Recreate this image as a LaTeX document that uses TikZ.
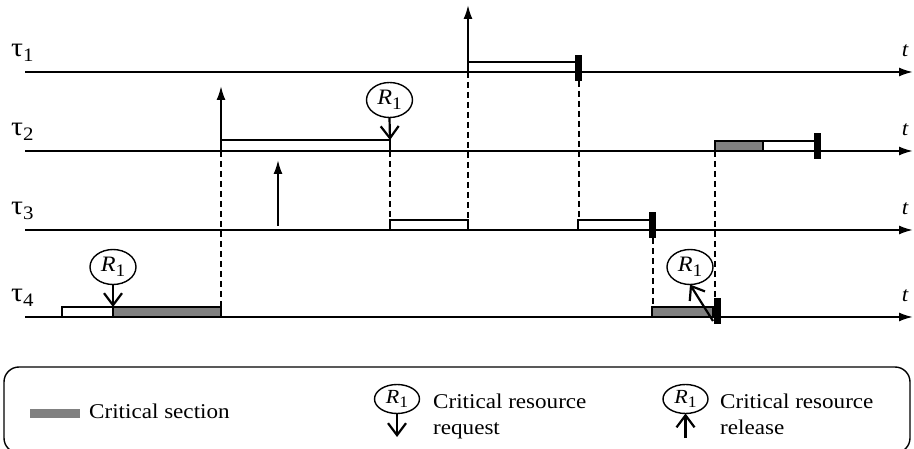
\documentclass[tikz,border=0pt]{standalone}
\usepackage{fontspec}
\setmainfont{Liberation Serif}[FakeStretch=1.1]
\usetikzlibrary{arrows.meta,shapes.geometric}
\newcommand{\resname}[1]{{\fontsize{#1}{#1}\selectfont\itshape R\raisebox{-0.22em}{\upshape\fontsize{0.8\dimexpr #1pt\relax}{1}\selectfont 1}}}
\newcommand{\taulabel}[1]{{\fontsize{27}{28}\selectfont τ}\raisebox{-5pt}{\fontsize{19}{20}\selectfont #1}}
\begin{document}
\begin{tikzpicture}[x=1pt,y=-1pt,
  font=\fontsize{21}{26}\selectfont,
  axis/.style={line width=2pt,-{Latex[length=14pt,width=9pt]}},
  arrival/.style={line width=2pt,-{Latex[length=14pt,width=9pt]}},
  execbox/.style={draw,line width=2pt,fill=white,inner sep=0pt,outer sep=0pt,anchor=south west,minimum height=10pt},
  critbox/.style={execbox,fill=black!50},
  endbar/.style={fill=black,inner sep=0pt,outer sep=0pt,minimum width=7pt,minimum height=26pt},
  dep/.style={line width=2pt,dash pattern=on 6pt off 4pt},
  res/.style={draw,ellipse,line width=1.4pt,minimum width=46pt,minimum height=35pt,inner sep=0pt,outer sep=0pt},
  lres/.style={draw,ellipse,line width=1.4pt,minimum width=45pt,minimum height=29pt,inner sep=0pt,outer sep=0pt},
  req/.style={line width=2.2pt,-{Straight Barb[length=12pt,width=18pt]}},
  tlbl/.style={font=\fontsize{21}{24}\selectfont\itshape,inner sep=0pt,anchor=base},
  txt/.style={inner sep=0pt,anchor=base west}
]
\useasboundingbox (0,0) rectangle (914,449);

% axes
\foreach \i/\y in {1/72,2/151,3/230,4/317}{
  \coordinate (s\i) at (25,\y);
  \coordinate (e\i) at (913,\y);
  \draw[axis] (s\i) -- (e\i);
  \node[inner sep=0pt,anchor=base west] (tau\i) at (11,\y-15) {\taulabel{\i}};
  \node[tlbl] (t\i) at (905,\y-15) {t};
}

% task 1
\coordinate (a1) at (468,72);
\coordinate (a1top) at (468,5);
\draw[arrival] (a1) -- (a1top);
\node[execbox,minimum width=110pt] (j1) at (468,72) {};
\node[endbar] (b1) at (578.5,68) {};

% task 2
\coordinate (a2) at (221,151);
\coordinate (a2top) at (221,86);
\draw[arrival] (a2) -- (a2top);
\node[execbox,minimum width=169pt,minimum height=11pt] (j2a) at (221,151) {};
\node[res] (r2) at (389.5,100) {\resname{22}};
\draw[req] (r2.south) -- (j2a.north east);
\node[critbox,minimum width=48pt] (j2b) at (715,151) {};
\node[execbox,minimum width=54pt] (j2c) at (763,151) {};
\node[endbar] (b2) at (817.5,146) {};

% task 3
\coordinate (a3) at (278,226);
\coordinate (a3top) at (278,160);
\draw[arrival] (a3) -- (a3top);
\node[execbox,minimum width=78pt] (j3a) at (390,230) {};
\node[execbox,minimum width=74pt] (j3b) at (578,230) {};
\node[endbar] (b3) at (652.5,225.5) {};

% task 4
\node[execbox,minimum width=51pt] (j4a) at (62,317) {};
\node[critbox,minimum width=108pt] (j4b) at (113,317) {};
\node[res] (r4a) at (113,267) {\resname{22}};
\draw[req] (r4a.south) -- (j4b.north west);
\node[critbox,minimum width=61pt] (j4c) at (652,317) {};
\node[endbar] (b4) at (717.5,311) {};
\node[res] (r4b) at (690,267) {\resname{22}};
\coordinate (rel) at (713,321);
\draw[req] (rel) -- (r4b.south);

% dependencies
\draw[dep] (a2) -- (j4b.north east);
\draw[dep] (j2a.south east) -- (j3a.north west);
\draw[dep] (a1) -- (j3a.north east);
\draw[dep] (b1.south) -- (b1.south |- j3b.north);
\draw[dep] (b3.south) -- (b3.south |- j4c.north);
\draw[dep] (j2b.south west) -- (b4.north -| j2b.south west);

% legend
\draw[line width=1.4pt,rounded corners=15pt] (4,367) rectangle (910,453);
\node[fill=black!50,inner sep=0pt,minimum width=50pt,minimum height=9pt] (lcrit) at (55,413) {};
\node[txt] (lcrittxt) at (89,418) {Critical section};
\node[lres] (lr1) at (397,399) {\resname{20}};
\coordinate (lr1end) at (397,437);
\draw[req] (lr1.south) -- (lr1end);
\node[txt] (lreqtxt) at (433,408) {Critical resource};
\node[txt] (lreqtxt2) at (433,434) {request};
\node[lres] (lr2) at (685.5,399) {\resname{20}};
\coordinate (lr2start) at (685.5,438);
\draw[req] (lr2start) -- (lr2.south);
\node[txt] (lreltxt) at (720,408) {Critical resource};
\node[txt] (lreltxt2) at (720,434) {release};
\end{tikzpicture}
\end{document}
